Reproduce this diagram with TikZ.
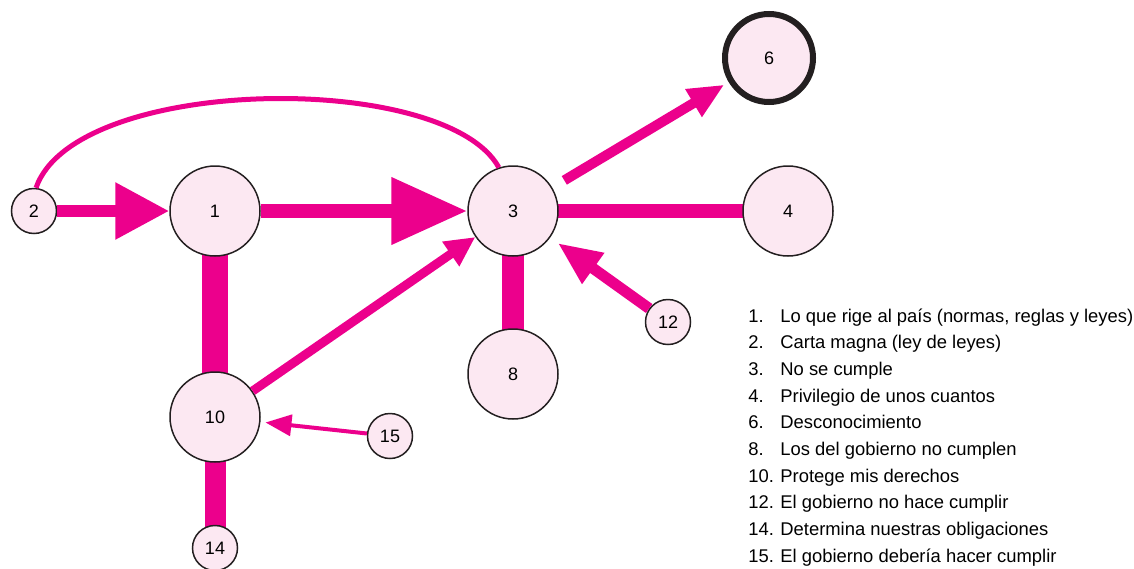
\documentclass[tikz,border=0pt]{standalone}
\usepackage{fontspec}
\setmainfont{Liberation Sans}
\usetikzlibrary{arrows.meta}

\definecolor{rosa}{HTML}{EC008C}
\definecolor{rosaclaro}{HTML}{FCE8F2}
\definecolor{borde}{HTML}{231F20}

\tikzset{
  concepto/.style={circle, draw=borde, line width=0.75pt, fill=rosaclaro, inner sep=0pt, font=\fontsize{9}{11}\selectfont},
  grande/.style={concepto, minimum size=45pt},
  chico/.style={concepto, minimum size=22.5pt},
  enlace/.style={draw=rosa, line width=#1},
  leyenda/.style={font=\fontsize{9.2}{11}\selectfont, inner sep=0pt, anchor=base west}
}

\begin{document}
\begin{tikzpicture}[x=0.5pt, y=-0.5pt]
      \useasboundingbox (0,0) rectangle (1134,568);

      % conexiones primero, los circulos van encima
      \coordinate (c1) at (215,211);
      \coordinate (c3) at (513,211);
      \coordinate (c10) at (215,417);
      \draw[enlace=13pt] (c1) -- (c10);
      \draw[enlace=11pt] (c3) -- (513,374);
      \draw[enlace=10.5pt] (c10) -- (215,548);
      \draw[enlace=7pt] (c3) -- (788,211);

      \node[grande] (n1) at (c1) {1};
      \node[chico] (n2) at (34,211) {2};
      \node[grande] (n3) at (c3) {3};
      \node[grande] (n4) at (788,211) {4};
      \node[grande, line width=3pt, minimum size=44pt] (n6) at (769,58) {6};
      \node[grande] (n8) at (513,374) {8};
      \node[grande] (n10) at (c10) {10};
      \node[chico] (n12) at (668,322) {12};
      \node[chico] (n14) at (215,548) {14};
      \node[chico] (n15) at (390,436) {15};

      \draw[enlace=2.5pt] (n2.85) .. controls (75,75) and (445,70) .. (n3.108);
      \draw[enlace=6pt, -{Triangle[length=27pt, width=27pt]}] (n2) -- (n1);
      \draw[enlace=7pt, -{Triangle[length=38pt, width=32pt]}] (n1) -- (n3);
      \draw[enlace=4.5pt, -{Triangle[length=15pt, width=14pt]}] (n10) -- (n3);
      \draw[enlace=5pt, -{Triangle[length=18pt, width=15pt]}, shorten <=7pt, shorten >=2.5pt] (n3) -- (n6);
      \draw[enlace=5.5pt, -{Triangle[length=22pt, width=17.5pt]}, shorten >=4.5pt] (n12) -- (n3);
      \draw[enlace=2pt, -{Triangle[length=13pt, width=10.5pt]}, shorten >=2.5pt] (n15) -- (n10);

      % leyenda
      \foreach \num/\texto [count=\i from 0] in {
          1/{Lo que rige al país (normas, reglas y leyes)},
          2/{Carta magna (ley de leyes)},
          3/{No se cumple},
          4/{Privilegio de unos cuantos},
          6/{Desconocimiento},
          8/{Los del gobierno no cumplen},
          10/{Protege mis derechos},
          12/{El gobierno no hace cumplir},
          14/{Determina nuestras obligaciones},
          15/{El gobierno debería hacer cumplir}}
        \node[leyenda] (ley\num) at (748,322+\i*26.67) {\makebox[16pt][l]{\num.}\texto};
    \end{tikzpicture}
\end{document}
